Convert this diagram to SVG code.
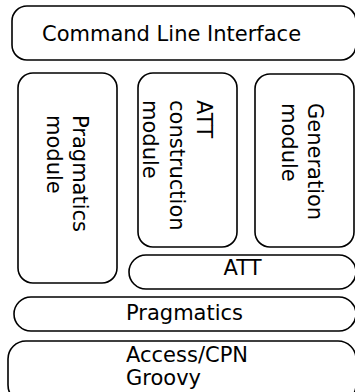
<svg xmlns="http://www.w3.org/2000/svg" width="355" height="392" viewBox="0 0 355 392">
  <style>
    .box { fill: #ffffff; stroke: #000000; stroke-width: 1.6; }
    .lbl { font-family: "DejaVu Sans", sans-serif; font-size: 21px; fill: #000000; }
  </style>
  <rect width="355" height="392" fill="#ffffff"/>

  <g id="cli">
    <rect class="box" x="12" y="6" width="344" height="54" rx="15" ry="15"/>
    <text class="lbl" x="42" y="41">Command Line Interface</text>
  </g>

  <g id="pragmatics-module">
    <rect class="box" x="18" y="73" width="99" height="210" rx="15" ry="15"/>
    <text class="lbl" transform="translate(73,115) rotate(90)">
      <tspan x="0" y="0">Pragmatics</tspan>
      <tspan x="0" y="26">module</tspan>
    </text>
  </g>

  <g id="att-construction-module">
    <rect class="box" x="138" y="73" width="99" height="174" rx="15" ry="15"/>
    <text class="lbl" transform="translate(197,100) rotate(90)">
      <tspan x="0" y="0">ATT</tspan>
      <tspan x="0" y="27">construction</tspan>
      <tspan x="0" y="54">module</tspan>
    </text>
  </g>

  <g id="generation-module">
    <rect class="box" x="255" y="74" width="99" height="173" rx="15" ry="15"/>
    <text class="lbl" transform="translate(308,103) rotate(90)">
      <tspan x="0" y="0">Generation</tspan>
      <tspan x="0" y="26">module</tspan>
    </text>
  </g>

  <g id="att">
    <rect class="box" x="129" y="255" width="227" height="34" rx="17" ry="17"/>
    <text class="lbl" x="242.5" y="275" text-anchor="middle">ATT</text>
  </g>

  <g id="pragmatics">
    <rect class="box" x="14" y="297" width="342" height="34" rx="17" ry="17"/>
    <text class="lbl" x="126" y="320">Pragmatics</text>
  </g>

  <g id="access-cpn">
    <rect class="box" x="8" y="341" width="348" height="62" rx="18" ry="18"/>
    <text class="lbl">
      <tspan x="126" y="362">Access/CPN</tspan>
      <tspan x="126" y="385">Groovy</tspan>
    </text>
  </g>

  <g id="connectors"/>
</svg>
